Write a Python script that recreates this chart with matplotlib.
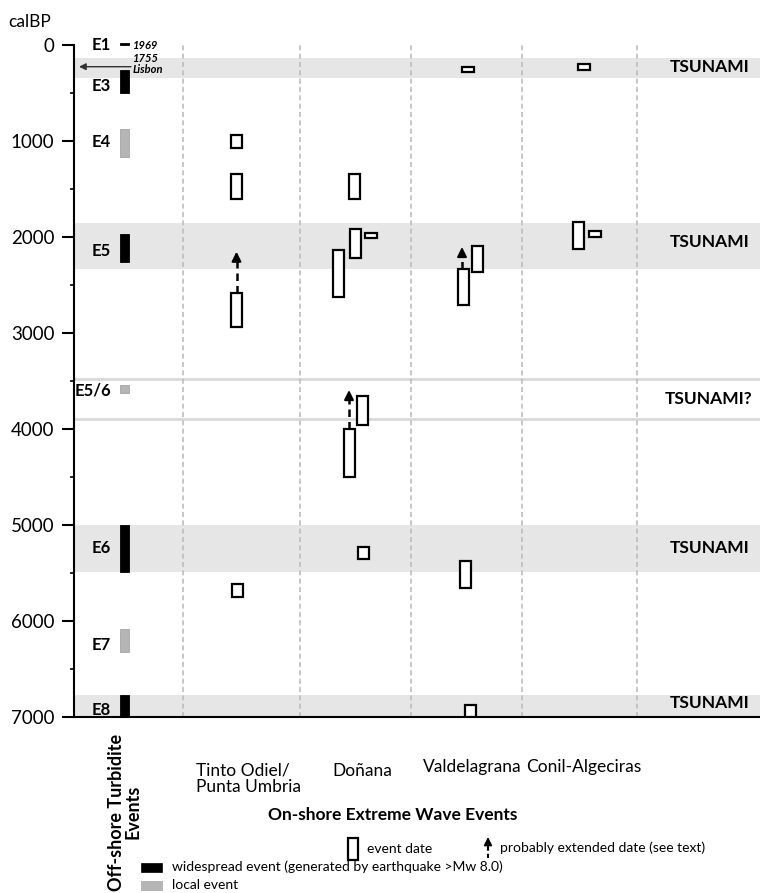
import matplotlib
matplotlib.use('Agg')
import matplotlib.pyplot as plt
from matplotlib.patches import Rectangle

plt.rcParams['font.family'] = ['Lato', 'DejaVu Sans']

# ---- data (calBP) ----
sites = ['Tinto Odiel/\nPunta Umbria', 'Doñana', 'Valdelagrana', 'Conil-Algeciras']

turb_names = ['E1', 'E3', 'E4', 'E5', 'E5/6', 'E6', 'E7', 'E8']
turb_young = [-25, 260, 875, 1970, 3545, 5000, 6080, 6770]
turb_old = [5, 500, 1167, 2260, 3630, 5490, 6320, 7000]
turb_widespread = [True, True, False, True, False, True, False, True]

event_site = [0, 0, 0, 0,
              1, 1, 1, 1, 1, 1, 1,
              2, 2, 2, 2, 2,
              3, 3, 3]
event_young = [938, 1344, 2587, 5618,
               1344, 1917, 1962, 2135, 3653, 4003, 5232,
               226, 2090, 2337, 5375, 6875,
               198, 1847, 1937]
event_old = [1070, 1604, 2937, 5753,
             1604, 2222, 2014, 2628, 3958, 4497, 5354,
             281, 2361, 2710, 5653, 6997,
             260, 2125, 1997]

ext_site = [0, 1, 2]
ext_from = [2587, 4003, 2337]
ext_to = [2153, 3594, 2104]

tsunami_bands = [(139, 347), (1850, 2338), (5000, 5488), (6771, 7000)]
tsunami_label_y = [229, 2052, 5240, 6854]
possible_band = (3483, 3896)

# ---- layout (pixel-like x units) ----
ev_x = [236.5, 236.5, 236.5, 237.5,
        354.5, 355, 371, 338.5, 362, 349, 363.5,
        468, 477, 463.5, 465, 470,
        584, 578, 595]
ev_w = [11, 11, 11, 11,
        11, 11, 12, 11, 11, 11, 11,
        12, 11, 11, 11, 11,
        12, 11, 12]
ext_x = [236.5, 349, 462]
divider_x = [183, 300, 411, 522, 637]
turb_label_y = [0, 427, 1010, 2146, 3594, 5240, 6250, 6927]

fig = plt.figure(figsize=(7.6, 8.93), dpi=100)
ax = fig.add_axes([74 / 760, (893 - 717) / 893, (760 - 74) / 760, (717 - 45) / 893])
ax.set_xlim(74, 760)
ax.set_ylim(7000, 0)

for lo, hi in tsunami_bands:
    ax.axhspan(lo, hi, color='#e6e6e6', lw=0, zorder=0)
for y in possible_band:
    ax.axhline(y, color='#d9d9d9', lw=2, zorder=0.5)
for x in divider_x:
    ax.axvline(x, color='#bdbdbd', lw=1.2, ls=(0, (3, 2)), zorder=0.6)

# off-shore turbidites
for name, y0, y1, big, ly in zip(turb_names, turb_young, turb_old, turb_widespread, turb_label_y):
    col = 'black' if big else '#b5b5b5'
    ax.add_patch(Rectangle((119.5, y0), 9.5, y1 - y0, facecolor=col,
                           edgecolor='black' if big else '#a5a5a5', lw=0.6,
                           zorder=3, clip_on=False))
    ax.text(111, ly, name, ha='right', va='center', fontsize=12,
            fontweight='bold', zorder=4)

ax.text(133, 5, '1969', fontsize=8, fontweight='bold', style='italic',
        va='center', ha='left')
ax.text(133, 140, '1755', fontsize=8, fontweight='bold', style='italic',
        va='center', ha='left')
ax.text(133, 258, 'Lisbon', fontsize=8, fontweight='bold', style='italic',
        va='center', ha='left')
ax.annotate('', xy=(79, 226), xytext=(131, 226),
            arrowprops=dict(arrowstyle='-|>', color='#333333', lw=1,
                            mutation_scale=10, shrinkA=0, shrinkB=0))

# on-shore events
for x, w, y0, y1 in zip(ev_x, ev_w, event_young, event_old):
    ax.add_patch(Rectangle((x - w / 2, y0), w, y1 - y0, facecolor='white',
                           edgecolor='black', lw=1.6, zorder=3))

for x, y0, y1 in zip(ext_x, ext_from, ext_to):
    ax.plot([x, x], [y0, y1 + 80], color='black', lw=1.8, ls=(0, (3, 2)), zorder=3)
    ax.annotate('', xy=(x, y1), xytext=(x, y1 + 90),
                arrowprops=dict(arrowstyle='-|>', color='black', lw=1.5,
                                mutation_scale=14, shrinkA=0, shrinkB=0))

for y in tsunami_label_y:
    ax.text(750, y, 'TSUNAMI', ha='right', va='center', fontsize=12.5,
            fontweight='bold')
ax.text(752, sum(possible_band) / 2, 'TSUNAMI?', ha='right', va='center',
        fontsize=12.5, fontweight='bold')

ax.spines['top'].set_visible(False)
ax.spines['right'].set_visible(False)
ax.spines['left'].set_linewidth(1.5)
ax.spines['bottom'].set_linewidth(1.5)
ax.set_xticks([])
ax.set_yticks(range(0, 7001, 1000))
ax.set_yticks(range(500, 7000, 1000), minor=True)
ax.tick_params(axis='y', which='major', length=9, width=1.5, labelsize=13.5, pad=5)
ax.tick_params(axis='y', which='minor', length=3, width=1.2)

# ---- annotations outside the plot (pixel overlay) ----
ov = fig.add_axes([0, 0, 1, 1], zorder=-1)
ov.set_xlim(0, 760)
ov.set_ylim(893, 0)
ov.axis('off')

ov.text(8, 22, 'calBP', fontsize=12.5, va='center', ha='left')

site_x = [196, 362, 472, 584]
site_y = [771, 771, 767, 767]
for i, (s, x, y) in enumerate(zip(sites, site_x, site_y)):
    if i == 0:
        ov.text(x, y - 9, s, fontsize=12.5, ha='left', va='top', linespacing=1.05)
    else:
        ov.text(x, y, s, fontsize=12.5, ha='center', va='center')

ov.text(393, 815, 'On-shore Extreme Wave Events', fontsize=12.5,
        fontweight='bold', ha='center', va='center')
ov.text(125, 812, 'Off-shore Turbidite\nEvents', fontsize=13, fontweight='bold',
        rotation=90, ha='center', va='center', multialignment='center',
        linespacing=1.0)

# legend
ov.add_patch(Rectangle((348, 838), 10, 22, facecolor='white', edgecolor='black', lw=1.6))
ov.text(367, 849, 'event date', fontsize=10, va='center')
ov.plot([488, 488], [858, 847], color='black', lw=1.5, ls=(0, (2, 1.5)))
ov.annotate('', xy=(488, 837), xytext=(488, 848),
            arrowprops=dict(arrowstyle='-|>', color='black', lw=1.2,
                            mutation_scale=12, shrinkA=0, shrinkB=0))
ov.text(500, 848, 'probably extended date (see text)', fontsize=10, va='center')

ov.add_patch(Rectangle((141, 863), 21, 9, facecolor='black', edgecolor='black', lw=0.5))
ov.text(172, 867, 'widespread event (generated by earthquake >Mw 8.0)', fontsize=10,
        va='center')
ov.add_patch(Rectangle((141, 881), 21, 9, facecolor='#b5b5b5', edgecolor='#a5a5a5', lw=0.5))
ov.text(172, 885, 'local event', fontsize=10, va='center')

fig.savefig('out.png', dpi=100)
